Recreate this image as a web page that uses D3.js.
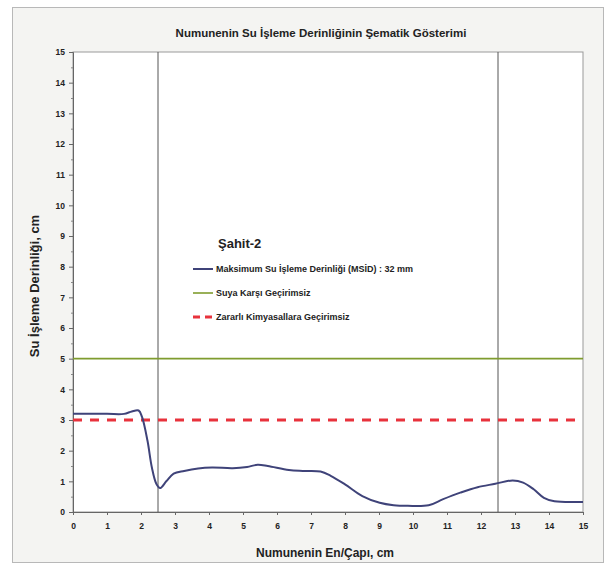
<!DOCTYPE html>
<html>
<head>
<meta charset="utf-8">
<script src="https://cdn.jsdelivr.net/npm/d3@7"></script>
<style>
  body { margin: 0; background: #fff; }
  text { font-family: "Liberation Sans", Arial, sans-serif; font-weight: bold; fill: #222; }
</style>
</head>
<body>
<div id="chart"></div>
<script>
// Data
const depthX = [0, 1, 1.5, 1.73, 1.93, 2.03, 2.19, 2.32, 2.45, 2.56, 2.75, 2.96, 3.27, 3.68, 4.09, 4.7, 5.12, 5.43, 5.73, 6.35, 6.76, 7.28, 7.58, 8.0, 8.51, 9.02, 9.43, 9.85, 10.46, 10.87, 11.39, 11.9, 12.42, 12.93, 13.24, 13.55, 13.85, 14.16, 15];
const depthY = [3.2, 3.2, 3.2, 3.28, 3.31, 3.1, 2.33, 1.45, 0.92, 0.78, 1.01, 1.25, 1.34, 1.42, 1.45, 1.43, 1.47, 1.54, 1.5, 1.37, 1.34, 1.32, 1.18, 0.9, 0.52, 0.3, 0.22, 0.2, 0.22, 0.41, 0.63, 0.81, 0.92, 1.03, 0.96, 0.74, 0.46, 0.35, 0.33];
const waterLimit = 5;
const chemLimit = 3;
const markerLinesX = [2.5, 12.5];
const xTicks = d3.range(0, 16);
const yTicks = d3.range(0, 16);
const legendLabels = [
  "Maksimum Su İşleme Derinliği (MSİD) : 32 mm",
  "Suya Karşı Geçirimsiz",
  "Zararlı Kimyasallara Geçirimsiz"
];

const W = 606, H = 566;
const margin = { top: 52, right: 23, bottom: 54, left: 73 };
const iw = W - margin.left - margin.right;
const ih = H - margin.top - margin.bottom;

const svg = d3.select("#chart").append("svg")
  .attr("width", W).attr("height", H);

// outer frame
svg.append("rect")
  .attr("x", 12.5).attr("y", 7.5).attr("width", 591).attr("height", 555)
  .attr("fill", "#f4f4f2").attr("stroke", "#b8b8b8");

const x = d3.scaleLinear().domain([0, 15]).range([0, iw]);
const y = d3.scaleLinear().domain([0, 15]).range([ih, 0]);

const g = svg.append("g").attr("transform", `translate(${margin.left},${margin.top})`);

g.append("rect").attr("width", iw).attr("height", ih)
  .attr("fill", "#fff").attr("stroke", "#999").attr("stroke-width", 1);

// axes
const yAxis = g.append("g")
  .call(d3.axisLeft(y).tickValues(yTicks).tickSize(4).tickFormat(d3.format("d")));
yAxis.selectAll(".tick text").attr("font-size", 8.5).attr("x", -8);
yAxis.select(".domain").attr("stroke", "#666");
yAxis.selectAll(".tick line").attr("stroke", "#666");

g.append("g")
  .call(d3.axisLeft(y).tickValues(d3.range(0.5, 15, 1)).tickSize(2).tickFormat(""))
  .call(s => s.select(".domain").remove())
  .selectAll("line").attr("stroke", "#888");

const xAxis = g.append("g").attr("transform", `translate(0,${ih})`)
  .call(d3.axisBottom(x).tickValues(xTicks).tickSize(3).tickFormat(d3.format("d")));
xAxis.selectAll(".tick text").attr("font-size", 8.5).attr("y", 11);
xAxis.select(".domain").attr("stroke", "#666");
xAxis.selectAll(".tick line").attr("stroke", "#666");

// vertical marker lines
g.selectAll("line.marker").data(markerLinesX).enter().append("line")
  .attr("class", "marker")
  .attr("x1", d => x(d)).attr("x2", d => x(d))
  .attr("y1", 0).attr("y2", ih)
  .attr("stroke", "#555").attr("stroke-width", 1);

// limit lines
g.append("line")
  .attr("x1", x(0)).attr("x2", x(15)).attr("y1", y(waterLimit)).attr("y2", y(waterLimit))
  .attr("stroke", "#7f9c2e").attr("stroke-width", 1.6);

g.append("line")
  .attr("x1", x(0)).attr("x2", x(15)).attr("y1", y(chemLimit)).attr("y2", y(chemLimit))
  .attr("stroke", "#e8323c").attr("stroke-width", 3.2).attr("stroke-dasharray", "9,8");

// depth curve
const pts = depthX.map((d, i) => [d, depthY[i]]);
const line = d3.line().x(d => x(d[0])).y(d => y(d[1])).curve(d3.curveCatmullRom.alpha(0.5));
g.append("path").datum(pts)
  .attr("d", line).attr("fill", "none")
  .attr("stroke", "#3f4379").attr("stroke-width", 2);

// title & axis labels
svg.append("text").attr("x", 321).attr("y", 37).attr("text-anchor", "middle")
  .attr("font-size", 11.5).text("Numunenin Su İşleme Derinliğinin Şematik Gösterimi");

svg.append("text").attr("x", 325).attr("y", 557).attr("text-anchor", "middle")
  .attr("font-size", 12).text("Numunenin En/Çapı, cm");

svg.append("text").attr("transform", "translate(39,286) rotate(-90)")
  .attr("text-anchor", "middle").attr("font-size", 13).text("Su İşleme Derinliği, cm");

// legend
const lg = svg.append("g").attr("transform", "translate(193,0)");
lg.append("text").attr("x", 25).attr("y", 248).attr("font-size", 13).text("Şahit-2");
const legendStyles = [
  { stroke: "#3f4379", width: 2, dash: null },
  { stroke: "#7f9c2e", width: 1.6, dash: null },
  { stroke: "#e8323c", width: 3, dash: "7,5" }
];
legendLabels.forEach((lab, i) => {
  const yy = 269 + i * 24;
  const st = legendStyles[i];
  lg.append("line").attr("x1", 0).attr("x2", 20).attr("y1", yy).attr("y2", yy)
    .attr("stroke", st.stroke).attr("stroke-width", st.width)
    .attr("stroke-dasharray", st.dash);
  lg.append("text").attr("x", 23).attr("y", yy + 3).attr("font-size", 9).text(lab);
});
</script>
</body>
</html>
